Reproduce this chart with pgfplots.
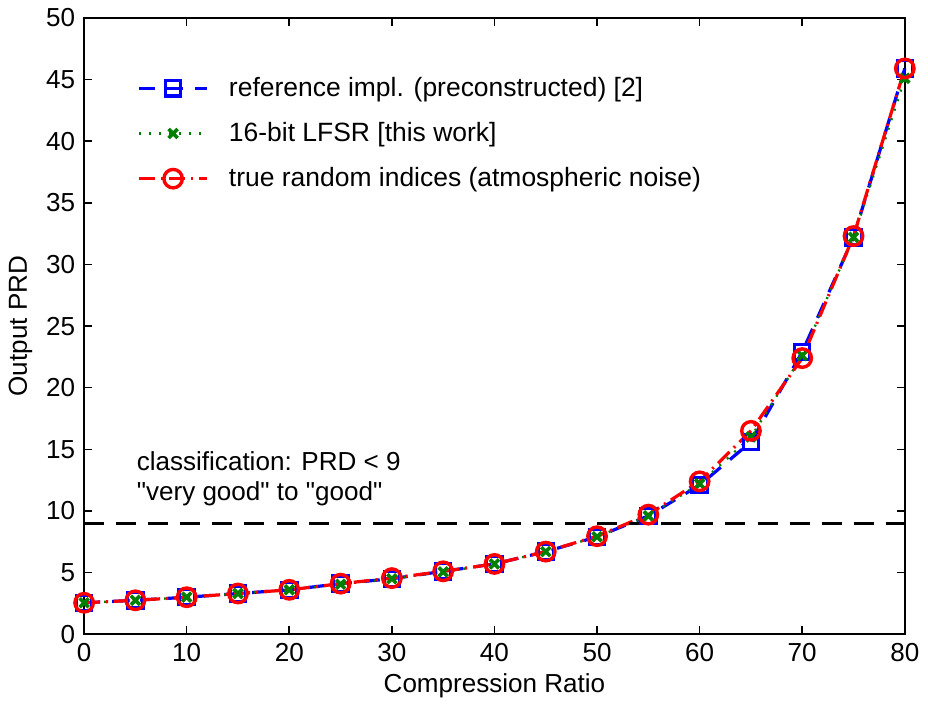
\documentclass[border=0pt]{standalone}
\usepackage{fontspec}
\setmainfont{Liberation Sans}
\usepackage{pgfplots}
\pgfplotsset{compat=1.18}
\begin{document}
\fontsize{13}{15}\selectfont
\begin{tikzpicture}
\begin{axis}[
  scale only axis,
  width=409.5pt, height=307.5pt,
  xmin=0, xmax=80, ymin=0, ymax=50,
  xtick={0,10,...,80}, ytick={0,5,...,50},
  tick align=inside,
  major tick length=4pt,
  tick style={black, line width=0.8pt},
  axis line style={line width=1pt},
  /pgf/number format/assume math mode=true,
  tick label style={font=\fontsize{13}{15}\selectfont},
  label style={font=\fontsize{13}{15}\selectfont},
  xlabel={Compression Ratio},
  ylabel={Output PRD},
  xlabel style={yshift=3pt},
  ylabel style={yshift=-2pt},
  legend style={at={(0.057,0.918)}, anchor=north west, draw=none, fill=none,
    font=\fontsize{13.2}{15}\selectfont, row sep=7pt,
    /tikz/every odd column/.append style={column sep=8pt}},
  legend cell align=left,
  legend image code/.code={
    \draw[mark repeat=2,mark phase=2] plot coordinates {(0cm,0cm)(0.6cm,0cm)(1.2cm,0cm)};
  },
  clip=false,
]
\addplot[blue, line width=1.6pt, dash pattern=on 8pt off 6pt, mark=square, mark size=3.8pt,
  mark options={solid, line width=1.6pt}] coordinates {
(0,2.55)(5,2.75)(10,3.0)(15,3.3)(20,3.6)(25,4.1)(30,4.5)(35,5.1)(40,5.7)(45,6.7)
(50,7.9)(55,9.6)(60,12.1)(65,15.6)(70,22.9)(75,32.2)(80,45.9)};
\addlegendentry{reference impl. (preconstructed) [2]}
\addplot[green!50!black, line width=1.2pt, dash pattern=on 1pt off 4pt, mark=x, mark size=3.2pt,
  mark options={solid, line width=1.8pt}] coordinates {
(0,2.55)(5,2.75)(10,3.0)(15,3.3)(20,3.6)(25,4.05)(30,4.5)(35,5.05)(40,5.7)(45,6.7)
(50,7.9)(55,9.6)(60,12.2)(65,16.0)(70,22.6)(75,32.2)(80,45.1)};
\addlegendentry{16-bit LFSR [this work]}
\addplot[red, line width=1.6pt, dash pattern=on 8pt off 3pt on 1pt off 3pt, mark=o, mark size=4.6pt,
  mark options={solid, line width=1.7pt}] coordinates {
(0,2.55)(5,2.75)(10,3.0)(15,3.3)(20,3.6)(25,4.1)(30,4.55)(35,5.1)(40,5.7)(45,6.7)
(50,7.95)(55,9.7)(60,12.4)(65,16.5)(70,22.4)(75,32.3)(80,45.9)};
\addlegendentry{true random indices (atmospheric noise)}
\addplot[black, line width=1.6pt, dash pattern=on 10pt off 6pt, forget plot] coordinates {(0,9)(80,9)};
\node[anchor=south west, align=left, font=\fontsize{13}{15}\selectfont, inner sep=0pt] at (axis cs:5.1,10.4)
  {classification: PRD < 9\\\textquotedbl very good\textquotedbl\ to \textquotedbl good\textquotedbl};
\end{axis}
\end{tikzpicture}
\end{document}
